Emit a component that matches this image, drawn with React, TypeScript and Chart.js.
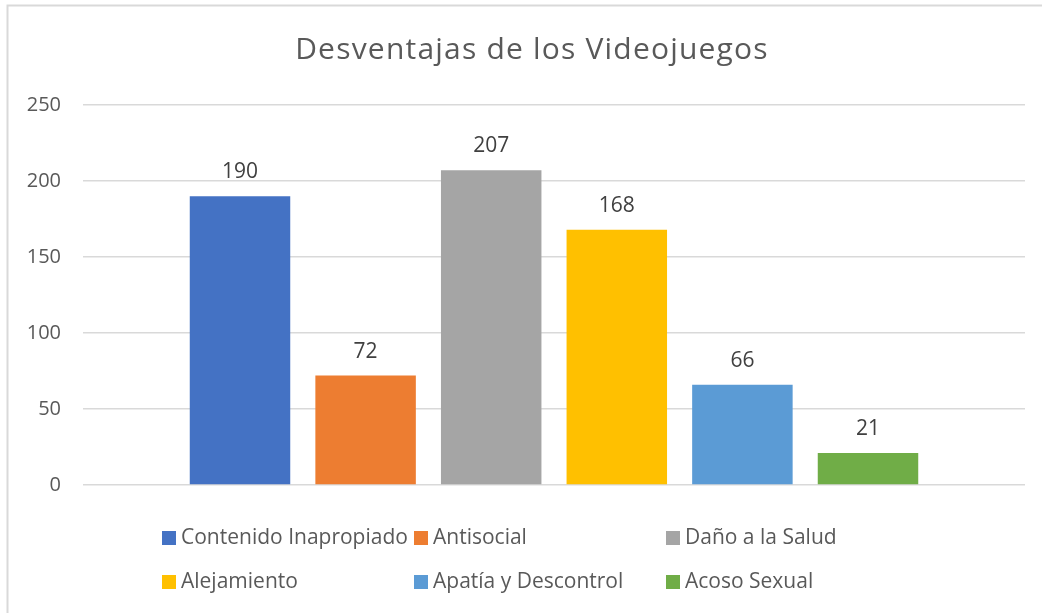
import React, { useEffect, useRef } from "react";
import { Chart, registerables } from "chart.js";

Chart.register(...registerables);

const chartTitle = "Desventajas de los Videojuegos";
const categories = ["Desventajas"];
const seriesNames = [
  "Contenido Inapropiado",
  "Antisocial",
  "Daño a la Salud",
  "Alejamiento",
  "Apatía y Descontrol",
  "Acoso Sexual",
];
const seriesValues = [190, 72, 207, 168, 66, 21];
const seriesColors = ["#4472C4", "#ED7D31", "#A5A5A5", "#FFC000", "#5B9BD5", "#70AD47"];
const yMin = 0;
const yMax = 250;
const yStep = 50;

const FONT = "'Open Sans', 'Noto Sans', sans-serif";

const framePlugin = {
  id: "frame",
  beforeDraw(chart: any) {
    const ctx = chart.ctx;
    ctx.save();
    ctx.fillStyle = "#FFFFFF";
    ctx.fillRect(0, 0, chart.width, chart.height);
    ctx.strokeStyle = "#D9D9D9";
    ctx.lineWidth = 2;
    ctx.beginPath();
    ctx.moveTo(7.5, chart.height);
    ctx.lineTo(7.5, 5.5);
    ctx.lineTo(chart.width, 5.5);
    ctx.stroke();
    ctx.restore();
  },
};

const titlePlugin = {
  id: "customTitle",
  afterDraw(chart: any) {
    const ctx = chart.ctx;
    ctx.save();
    ctx.font = `30px ${FONT}`;
    if ("letterSpacing" in ctx) (ctx as any).letterSpacing = "1.2px";
    ctx.fillStyle = "#595959";
    ctx.textAlign = "center";
    ctx.textBaseline = "alphabetic";
    ctx.fillText(chartTitle, 532, 59);
    ctx.restore();
  },
};

const valueLabelPlugin = {
  id: "valueLabels",
  afterDatasetsDraw(chart: any) {
    const ctx = chart.ctx;
    ctx.save();
    ctx.font = `21px ${FONT}`;
    ctx.fillStyle = "#404040";
    ctx.textAlign = "center";
    ctx.textBaseline = "alphabetic";
    chart.data.datasets.forEach((ds: any, i: number) => {
      const meta = chart.getDatasetMeta(i);
      meta.data.forEach((bar: any, j: number) => {
        ctx.fillText(String(ds.data[j]), bar.x, bar.y - 18);
      });
    });
    ctx.restore();
  },
};

const gridLegendPlugin = {
  id: "gridLegend",
  afterDraw(chart: any) {
    const ctx = chart.ctx;
    const colX = [162, 414, 666];
    const rowY = [531, 575];
    ctx.save();
    ctx.font = `21px ${FONT}`;
    ctx.textAlign = "left";
    ctx.textBaseline = "middle";
    chart.data.datasets.forEach((ds: any, i: number) => {
      const x = colX[i % 3];
      const y = rowY[Math.floor(i / 3)];
      ctx.fillStyle = ds.backgroundColor;
      ctx.fillRect(x, y, 14, 14);
      ctx.fillStyle = "#595959";
      ctx.fillText(ds.label, x + 19, y + 7);
    });
    ctx.restore();
  },
};

export default function App() {
  const canvasRef = useRef<HTMLCanvasElement | null>(null);

  useEffect(() => {
    if (!canvasRef.current) return;
    const chart = new Chart(canvasRef.current, {
      type: "bar",
      data: {
        labels: categories,
        datasets: seriesNames.map((name, i) => ({
          label: name,
          data: [seriesValues[i]],
          backgroundColor: seriesColors[i],
          borderWidth: 0,
        })),
      },
      options: {
        animation: false,
        responsive: false,
        maintainAspectRatio: false,
        layout: { padding: { left: 0, right: 17, top: 105, bottom: 128 } },
        datasets: { bar: { categoryPercentage: 0.8, barPercentage: 0.8 } },
        plugins: {
          legend: { display: false },
          tooltip: { enabled: false },
          title: { display: false },
        },
        scales: {
          x: { display: false },
          y: {
            min: yMin,
            max: yMax,
            afterFit: (s: any) => {
              s.width = 83;
            },
            ticks: {
              stepSize: yStep,
              padding: 22,
              color: "#595959",
              font: { family: FONT, size: 20 },
            },
            grid: { color: "#D9D9D9", lineWidth: 1.5, drawTicks: false },
            border: { display: false },
          },
        },
      },
      plugins: [framePlugin, valueLabelPlugin, gridLegendPlugin, titlePlugin],
    } as any);
    return () => chart.destroy();
  }, []);

  return (
    <div style={{ position: "absolute", left: 0, top: 0, width: 1042, height: 613, background: "#fff" }}>
      <canvas ref={canvasRef} width={1042} height={613} style={{ display: "block" }} />
    </div>
  );
}
